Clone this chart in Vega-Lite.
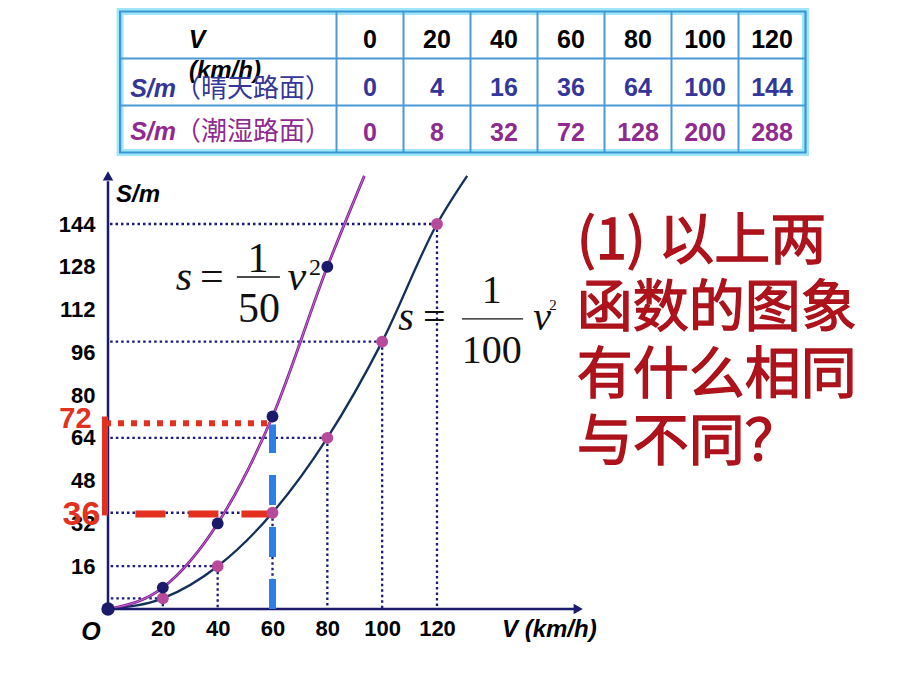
{
  "$schema": "https://vega.github.io/schema/vega-lite/v6.json",
  "width": 920,
  "height": 690,
  "padding": 0,
  "autosize": {"type": "none"},
  "background": "#ffffff",
  "config": {"view": {"stroke": null}, "font": "Liberation Sans"},
  "datasets": {
    "table": [
      {"v": 0, "dry": 0, "wet": 0},
      {"v": 20, "dry": 4, "wet": 8},
      {"v": 40, "dry": 16, "wet": 32},
      {"v": 60, "dry": 36, "wet": 72},
      {"v": 80, "dry": 64, "wet": 128},
      {"v": 100, "dry": 100, "wet": 200},
      {"v": 120, "dry": 144, "wet": 288}
    ],
    "curveDry": [
      {"v": 0, "s": 0}, {"v": 20, "s": 4}, {"v": 40, "s": 16}, {"v": 60, "s": 36},
      {"v": 80, "s": 64}, {"v": 100, "s": 100}, {"v": 120, "s": 144}, {"v": 131, "s": 162}
    ],
    "curveWet": [
      {"v": 0, "s": 0}, {"v": 20, "s": 8}, {"v": 40, "s": 32}, {"v": 60, "s": 72},
      {"v": 80, "s": 128}, {"v": 93.5, "s": 162}
    ],
    "gridRows": [{"edge": 0.5}, {"edge": 1.5}],
    "gridCols": [{"edge": -10}, {"edge": 10}, {"edge": 30}, {"edge": 50}, {"edge": 70}, {"edge": 90}, {"edge": 110}]
  },
  "layer": [
    {
      "layer": [
        {
          "data": {"name": "table"},
          "transform": [{"filter": "datum.v > 0"}],
          "mark": {"type": "rule", "color": "#1c1a78", "strokeWidth": 2.3, "strokeDash": [2.5, 3]},
          "encoding": {
            "x": {"field": "v", "type": "quantitative",
                  "scale": {"domain": [0, 120], "range": [108, 437], "nice": false, "zero": false},
                  "axis": {"values": [20, 40, 60, 80, 100, 120], "orient": "bottom", "offset": -81, "domain": false, "ticks": false, "tickSize": 0, "grid": false, "labelFlush": false, "labelOverlap": false, "labelPadding": 9, "labelFont": "Liberation Sans", "labelFontWeight": "bold", "labelFontSize": 22, "labelColor": "#000000", "title": null}},
            "x2": {"datum": 0},
            "y": {"field": "dry", "type": "quantitative",
                  "scale": {"domain": [0, 144], "range": [609, 224], "nice": false, "zero": false},
                  "axis": {"values": [16, 32, 48, 64, 80, 96, 112, 128, 144], "orient": "left", "offset": -107, "domain": false, "ticks": false, "tickSize": 0, "grid": false, "labelFlush": false, "labelOverlap": false, "labelPadding": 12, "labelFont": "Liberation Sans", "labelFontWeight": "bold", "labelFontSize": 22, "labelColor": "#000000", "title": null}}
          }
        },
        {
          "data": {"name": "table"},
          "transform": [{"filter": "datum.v > 0"}],
          "mark": {"type": "rule", "color": "#1c1a78", "strokeWidth": 2.3, "strokeDash": [2.5, 3]},
          "encoding": {
            "x": {"field": "v", "type": "quantitative"},
            "y": {"field": "dry", "type": "quantitative"},
            "y2": {"datum": 0}
          }
        },
        {
          "data": {"name": "curveDry"},
          "mark": {"type": "line", "color": "#13305c", "strokeWidth": 2.3, "interpolate": "monotone"},
          "encoding": {"x": {"field": "v", "type": "quantitative"}, "y": {"field": "s", "type": "quantitative"}}
        },
        {
          "data": {"name": "curveWet"},
          "mark": {"type": "line", "color": "#7e2391", "strokeWidth": 2.8, "interpolate": "monotone"},
          "encoding": {"x": {"field": "v", "type": "quantitative"}, "y": {"field": "s", "type": "quantitative"}}
        },
        {
          "data": {"name": "curveWet"},
          "mark": {"type": "line", "color": "#d673dc", "strokeWidth": 0.9, "interpolate": "monotone"},
          "encoding": {"x": {"field": "v", "type": "quantitative"}, "y": {"field": "s", "type": "quantitative"}}
        },
        {
          "data": {"values": [{}]},
          "mark": {"type": "rule", "color": "#1a1a6e", "strokeWidth": 2.5},
          "encoding": {"x": {"datum": 0, "type": "quantitative"}, "y": {"datum": 0, "type": "quantitative"}, "y2": {"datum": 160}}
        },
        {
          "data": {"values": [{}]},
          "mark": {"type": "rule", "color": "#1a1a6e", "strokeWidth": 2.5},
          "encoding": {"x": {"datum": 0, "type": "quantitative"}, "x2": {"datum": 170}, "y": {"datum": 0, "type": "quantitative"}}
        },
        {
          "data": {"values": [{}]},
          "mark": {"type": "point", "shape": "triangle-up", "filled": true, "color": "#1a1a6e", "size": 110, "opacity": 1},
          "encoding": {"x": {"datum": 0, "type": "quantitative"}, "y": {"datum": 162, "type": "quantitative"}}
        },
        {
          "data": {"values": [{}]},
          "mark": {"type": "point", "shape": "triangle-right", "filled": true, "color": "#1a1a6e", "size": 110, "opacity": 1},
          "encoding": {"x": {"datum": 171.5, "type": "quantitative"}, "y": {"datum": 0, "type": "quantitative"}}
        },
        {
          "data": {"values": [{}]},
          "mark": {"type": "rule", "color": "#e3301f", "strokeWidth": 6},
          "encoding": {"x": {"datum": -1.1, "type": "quantitative"}, "y": {"datum": 35, "type": "quantitative"}, "y2": {"datum": 72}}
        },
        {
          "data": {"values": [{}]},
          "mark": {"type": "rule", "color": "#e3301f", "strokeWidth": 6, "strokeDash": [6, 7]},
          "encoding": {"x": {"datum": -1.1, "type": "quantitative"}, "x2": {"datum": 60}, "y": {"datum": 69.5, "type": "quantitative"}}
        },
        {
          "data": {"values": [{}]},
          "mark": {"type": "rule", "color": "#e3301f", "strokeWidth": 7, "strokeDash": [30, 23]},
          "encoding": {"x": {"datum": 10, "type": "quantitative"}, "x2": {"datum": 60}, "y": {"datum": 35.5, "type": "quantitative"}}
        },
        {
          "data": {"values": [{}]},
          "mark": {"type": "rule", "color": "#2e7fe5", "strokeWidth": 7, "strokeDash": [30, 22]},
          "encoding": {"x": {"datum": 60, "type": "quantitative"}, "y": {"datum": 0, "type": "quantitative"}, "y2": {"datum": 69}}
        },
        {
          "data": {"name": "table"},
          "transform": [{"filter": "datum.v > 0"}],
          "mark": {"type": "point", "filled": true, "color": "#b84a9c", "size": 140, "opacity": 1},
          "encoding": {"x": {"field": "v", "type": "quantitative"}, "y": {"field": "dry", "type": "quantitative"}}
        },
        {
          "data": {"name": "table"},
          "transform": [{"filter": "datum.v > 0 && datum.v <= 80"}],
          "mark": {"type": "point", "filled": true, "color": "#1c1a6a", "size": 140, "opacity": 1},
          "encoding": {"x": {"field": "v", "type": "quantitative"}, "y": {"field": "wet", "type": "quantitative"}}
        },
        {
          "data": {"name": "table"},
          "transform": [{"filter": "datum.v == 0"}],
          "mark": {"type": "point", "filled": true, "color": "#1c1a6a", "size": 180, "opacity": 1},
          "encoding": {"x": {"field": "v", "type": "quantitative"}, "y": {"field": "wet", "type": "quantitative"}}
        },
        {
          "data": {"values": [{}]},
          "mark": {"type": "text", "text": "S/m", "fontSize": 24, "fontWeight": "bold", "fontStyle": "italic", "align": "left", "baseline": "middle", "color": "#000000"},
          "encoding": {"x": {"datum": 2.9, "type": "quantitative"}, "y": {"datum": 154.8, "type": "quantitative"}}
        },
        {
          "data": {"values": [{}]},
          "mark": {"type": "text", "text": "O", "fontSize": 25, "fontWeight": "bold", "fontStyle": "italic", "align": "center", "baseline": "middle", "color": "#000000"},
          "encoding": {"x": {"datum": -6.2, "type": "quantitative"}, "y": {"datum": -8.6, "type": "quantitative"}}
        },
        {
          "data": {"values": [{}]},
          "mark": {"type": "text", "text": "V (km/h)", "fontSize": 24, "fontWeight": "bold", "fontStyle": "italic", "align": "left", "baseline": "middle", "color": "#000000"},
          "encoding": {"x": {"datum": 143.7, "type": "quantitative"}, "y": {"datum": -7.8, "type": "quantitative"}}
        },
        {
          "data": {"values": [{}]},
          "mark": {"type": "text", "text": "72", "fontSize": 29, "fontWeight": "bold", "align": "center", "baseline": "middle", "color": "#e0321e"},
          "encoding": {"x": {"datum": -11.9, "type": "quantitative"}, "y": {"datum": 71, "type": "quantitative"}}
        },
        {
          "data": {"values": [{}]},
          "mark": {"type": "text", "text": "36", "fontSize": 34, "fontWeight": "bold", "align": "center", "baseline": "middle", "color": "#e0321e"},
          "encoding": {"x": {"datum": -9.7, "type": "quantitative"}, "y": {"datum": 35.2, "type": "quantitative"}}
        },
        {
          "data": {"values": [{}]},
          "mark": {"type": "text", "text": "s", "font": "Liberation Serif", "fontSize": 42, "fontStyle": "italic", "align": "center", "baseline": "alphabetic", "color": "#111111"},
          "encoding": {"x": {"datum": 27.7, "type": "quantitative"}, "y": {"datum": 119.3, "type": "quantitative"}}
        },
        {
          "data": {"values": [{}]},
          "mark": {"type": "text", "text": "=", "font": "Liberation Serif", "fontSize": 42, "align": "center", "baseline": "alphabetic", "color": "#111111"},
          "encoding": {"x": {"datum": 37.9, "type": "quantitative"}, "y": {"datum": 119.3, "type": "quantitative"}}
        },
        {
          "data": {"values": [{}]},
          "mark": {"type": "text", "text": "1", "font": "Liberation Serif", "fontSize": 42, "align": "center", "baseline": "alphabetic", "color": "#111111"},
          "encoding": {"x": {"datum": 54.7, "type": "quantitative"}, "y": {"datum": 126.0, "type": "quantitative"}}
        },
        {
          "data": {"values": [{}]},
          "mark": {"type": "rule", "color": "#111111", "strokeWidth": 1.5},
          "encoding": {"x": {"datum": 47, "type": "quantitative"}, "x2": {"datum": 62.7}, "y": {"datum": 124.2, "type": "quantitative"}}
        },
        {
          "data": {"values": [{}]},
          "mark": {"type": "text", "text": "50", "font": "Liberation Serif", "fontSize": 42, "align": "center", "baseline": "alphabetic", "color": "#111111"},
          "encoding": {"x": {"datum": 55.1, "type": "quantitative"}, "y": {"datum": 107.3, "type": "quantitative"}}
        },
        {
          "data": {"values": [{}]},
          "mark": {"type": "text", "text": "v", "font": "Liberation Serif", "fontSize": 42, "fontStyle": "italic", "align": "center", "baseline": "alphabetic", "color": "#111111"},
          "encoding": {"x": {"datum": 68.9, "type": "quantitative"}, "y": {"datum": 119.3, "type": "quantitative"}}
        },
        {
          "data": {"values": [{}]},
          "mark": {"type": "text", "text": "2", "font": "Liberation Serif", "fontSize": 24, "align": "center", "baseline": "alphabetic", "color": "#111111"},
          "encoding": {"x": {"datum": 75.5, "type": "quantitative"}, "y": {"datum": 124.9, "type": "quantitative"}}
        },
        {
          "data": {"values": [{}]},
          "mark": {"type": "text", "text": "s", "font": "Liberation Serif", "fontSize": 40, "fontStyle": "italic", "align": "center", "baseline": "alphabetic", "color": "#111111"},
          "encoding": {"x": {"datum": 108.7, "type": "quantitative"}, "y": {"datum": 104.3, "type": "quantitative"}}
        },
        {
          "data": {"values": [{}]},
          "mark": {"type": "text", "text": "=", "font": "Liberation Serif", "fontSize": 40, "align": "center", "baseline": "alphabetic", "color": "#111111"},
          "encoding": {"x": {"datum": 119.0, "type": "quantitative"}, "y": {"datum": 104.3, "type": "quantitative"}}
        },
        {
          "data": {"values": [{}]},
          "mark": {"type": "text", "text": "1", "font": "Liberation Serif", "fontSize": 40, "align": "center", "baseline": "alphabetic", "color": "#111111"},
          "encoding": {"x": {"datum": 140.0, "type": "quantitative"}, "y": {"datum": 114.4, "type": "quantitative"}}
        },
        {
          "data": {"values": [{}]},
          "mark": {"type": "rule", "color": "#111111", "strokeWidth": 1.3},
          "encoding": {"x": {"datum": 129.1, "type": "quantitative"}, "x2": {"datum": 151.4}, "y": {"datum": 108.5, "type": "quantitative"}}
        },
        {
          "data": {"values": [{}]},
          "mark": {"type": "text", "text": "100", "font": "Liberation Serif", "fontSize": 40, "align": "center", "baseline": "alphabetic", "color": "#111111"},
          "encoding": {"x": {"datum": 140.0, "type": "quantitative"}, "y": {"datum": 92.0, "type": "quantitative"}}
        },
        {
          "data": {"values": [{}]},
          "mark": {"type": "text", "text": "v", "font": "Liberation Serif", "fontSize": 40, "fontStyle": "italic", "align": "center", "baseline": "alphabetic", "color": "#111111"},
          "encoding": {"x": {"datum": 158.3, "type": "quantitative"}, "y": {"datum": 104.3, "type": "quantitative"}}
        },
        {
          "data": {"values": [{}]},
          "mark": {"type": "text", "text": "2", "font": "Liberation Serif", "fontSize": 15, "align": "center", "baseline": "alphabetic", "color": "#111111"},
          "encoding": {"x": {"datum": 162.3, "type": "quantitative"}, "y": {"datum": 111.8, "type": "quantitative"}}
        },
        {
          "data": {"values": [{}]},
          "mark": {"type": "text", "text": "(1) 以上两\n函数的图象\n有什么相同\n与不同？", "lineBreak": "\n", "lineHeight": 67, "font": "Noto Sans CJK SC", "fontSize": 56, "fontWeight": "normal", "align": "left", "baseline": "alphabetic", "color": "#b0131b", "stroke": "#a8111a", "strokeWidth": 1.3},
          "encoding": {"x": {"datum": 171, "type": "quantitative"}, "y": {"datum": 130.9, "type": "quantitative"}}
        }
      ]
    },
    {
      "layer": [
        {
          "data": {"values": [{}]},
          "mark": {"type": "rect", "fill": "transparent", "stroke": "#9fe6f8", "strokeWidth": 7},
          "encoding": {
            "x": {"datum": -74.6, "type": "quantitative", "scale": {"domain": [0, 120], "range": [370, 772], "nice": false, "zero": false}, "axis": null},
            "x2": {"datum": 130},
            "y": {"datum": -0.5, "type": "quantitative", "scale": {"domain": [0, 2], "range": [35, 129], "nice": false, "zero": false}, "axis": null},
            "y2": {"datum": 2.5}
          }
        },
        {
          "data": {"name": "gridRows"},
          "mark": {"type": "rule", "color": "#4a9ad6", "strokeWidth": 2},
          "encoding": {
            "x": {"datum": -74.6, "type": "quantitative", "axis": null},
            "x2": {"datum": 130},
            "y": {"field": "edge", "type": "quantitative", "axis": null}
          }
        },
        {
          "data": {"name": "gridCols"},
          "mark": {"type": "rule", "color": "#4a9ad6", "strokeWidth": 2},
          "encoding": {
            "x": {"field": "edge", "type": "quantitative", "axis": null},
            "y": {"datum": -0.5, "type": "quantitative", "axis": null},
            "y2": {"datum": 2.5}
          }
        },
        {
          "data": {"values": [{}]},
          "mark": {"type": "rect", "fill": "transparent", "stroke": "#3d96d2", "strokeWidth": 2.2},
          "encoding": {
            "x": {"datum": -74.6, "type": "quantitative", "axis": null},
            "x2": {"datum": 130},
            "y": {"datum": -0.5, "type": "quantitative", "axis": null},
            "y2": {"datum": 2.5}
          }
        },
        {
          "data": {"name": "table"},
          "mark": {"type": "text", "fontSize": 25, "fontWeight": "bold", "align": "center", "baseline": "middle", "dy": 5, "color": "#000000"},
          "encoding": {
            "x": {"field": "v", "type": "quantitative", "axis": null},
            "y": {"datum": 0, "type": "quantitative", "axis": null},
            "text": {"field": "v", "type": "nominal"}
          }
        },
        {
          "data": {"name": "table"},
          "mark": {"type": "text", "fontSize": 25, "fontWeight": "bold", "align": "center", "baseline": "middle", "dy": 6, "color": "#34369a"},
          "encoding": {
            "x": {"field": "v", "type": "quantitative", "axis": null},
            "y": {"datum": 1, "type": "quantitative", "axis": null},
            "text": {"field": "dry", "type": "nominal"}
          }
        },
        {
          "data": {"name": "table"},
          "mark": {"type": "text", "fontSize": 25, "fontWeight": "bold", "align": "center", "baseline": "middle", "dy": 4, "color": "#8e2a90"},
          "encoding": {
            "x": {"field": "v", "type": "quantitative", "axis": null},
            "y": {"datum": 2, "type": "quantitative", "axis": null},
            "text": {"field": "wet", "type": "nominal"}
          }
        },
        {
          "data": {"values": [{}]},
          "mark": {"type": "text", "text": "V", "fontSize": 25, "fontWeight": "bold", "fontStyle": "italic", "align": "center", "baseline": "middle", "dy": 5, "color": "#000000"},
          "encoding": {"x": {"datum": -51.6, "type": "quantitative", "axis": null}, "y": {"datum": 0, "type": "quantitative", "axis": null}}
        },
        {
          "data": {"values": [{}]},
          "mark": {"type": "text", "text": "(km/h)", "fontSize": 24, "fontWeight": "bold", "fontStyle": "italic", "align": "center", "baseline": "middle", "color": "#000000"},
          "encoding": {"x": {"datum": -43.3, "type": "quantitative", "axis": null}, "y": {"datum": 0.766, "type": "quantitative", "axis": null}}
        },
        {
          "data": {"values": [{}]},
          "mark": {"type": "text", "text": "S/m", "fontSize": 25, "fontWeight": "bold", "fontStyle": "italic", "align": "left", "baseline": "middle", "dy": 7, "color": "#34369a"},
          "encoding": {"x": {"datum": -71.6, "type": "quantitative", "axis": null}, "y": {"datum": 1, "type": "quantitative", "axis": null}}
        },
        {
          "data": {"values": [{}]},
          "mark": {"type": "text", "text": "（晴天路面）", "font": "Noto Sans CJK SC", "fontSize": 26, "align": "left", "baseline": "middle", "dy": 7, "color": "#34369a"},
          "encoding": {"x": {"datum": -58.2, "type": "quantitative", "axis": null}, "y": {"datum": 1, "type": "quantitative", "axis": null}}
        },
        {
          "data": {"values": [{}]},
          "mark": {"type": "text", "text": "S/m", "fontSize": 25, "fontWeight": "bold", "fontStyle": "italic", "align": "left", "baseline": "middle", "dy": 3, "color": "#8e2a90"},
          "encoding": {"x": {"datum": -71.6, "type": "quantitative", "axis": null}, "y": {"datum": 2, "type": "quantitative", "axis": null}}
        },
        {
          "data": {"values": [{}]},
          "mark": {"type": "text", "text": "（潮湿路面）", "font": "Noto Sans CJK SC", "fontSize": 26, "align": "left", "baseline": "middle", "dy": 3, "color": "#8e2a90"},
          "encoding": {"x": {"datum": -58.2, "type": "quantitative", "axis": null}, "y": {"datum": 2, "type": "quantitative", "axis": null}}
        }
      ]
    }
  ],
  "resolve": {
    "scale": {"x": "independent", "y": "independent"},
    "axis": {"x": "independent", "y": "independent"}
  }
}
